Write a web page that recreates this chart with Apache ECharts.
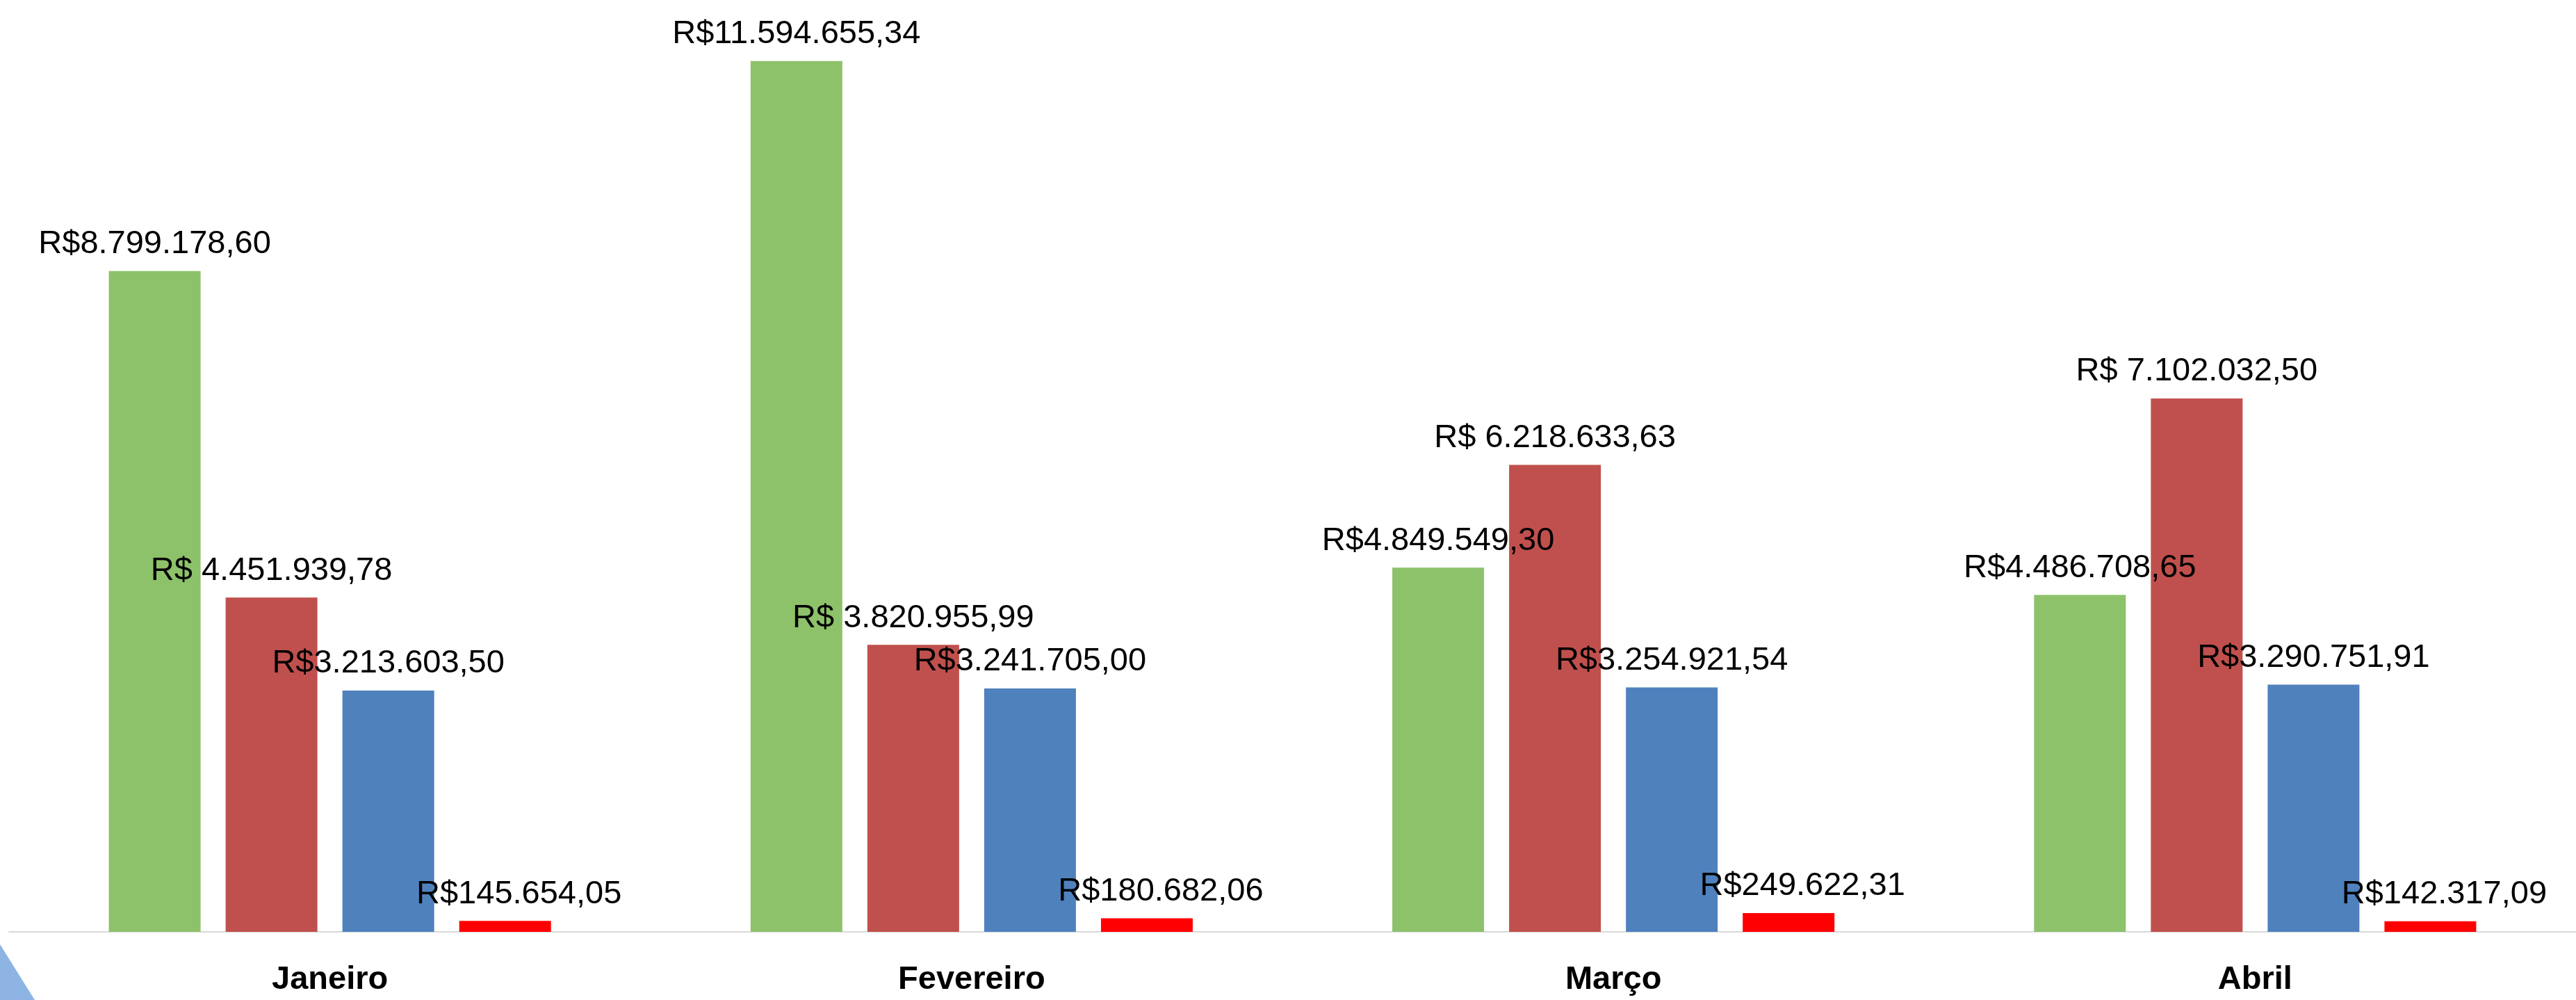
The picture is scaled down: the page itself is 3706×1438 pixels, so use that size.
<!DOCTYPE html>
<html>
<head>
<meta charset="utf-8">
<script src="https://cdn.jsdelivr.net/npm/echarts@6/dist/echarts.min.js"></script>
<style>
html,body{margin:0;padding:0;background:#fff;}
#chart{width:3706px;height:1438px;}
</style>
</head>
<body>
<div id="chart"></div>
<script>
const categories = ['Janeiro', 'Fevereiro', 'Março', 'Abril'];
const seriesGreen = [8799178.60, 11594655.34, 4849549.30, 4486708.65];
const seriesDarkRed = [4451939.78, 3820955.99, 6218633.63, 7102032.50];
const seriesBlue = [3213603.50, 3241705.00, 3254921.54, 3290751.91];
const seriesRed = [145654.05, 180682.06, 249622.31, 142317.09];

function brl(v, space) {
  const parts = v.toFixed(2).split('.');
  const intPart = parts[0].replace(/\B(?=(\d{3})+(?!\d))/g, '.');
  return 'R$' + (space ? ' ' : '') + intPart + ',' + parts[1];
}

const labelFont = {
  fontFamily: '"Liberation Sans", Arial, sans-serif',
  fontSize: 47,
  color: '#000'
};

function mkSeries(name, data, color, space, offsetX) {
  return {
    name: name,
    type: 'bar',
    data: data,
    barWidth: 132,
    barGap: '27.3%',
    itemStyle: { color: color },
    label: Object.assign({
      show: true,
      position: 'top',
      distance: 15,
      offset: [offsetX || 0, 0],
      formatter: p => brl(p.value, space)
    }, labelFont),
    z: 2
  };
}

const chart = echarts.init(document.getElementById('chart'));
chart.setOption({
  animation: false,
  backgroundColor: '#fff',
  grid: { left: 13, width: 3718, top: 44, height: 1296, containLabel: false },
  xAxis: {
    type: 'category',
    data: categories,
    axisLine: { show: true, lineStyle: { color: '#D9D9D9', width: 2 } },
    axisTick: { show: false },
    axisLabel: {
      margin: 46,
      fontFamily: '"Liberation Sans", Arial, sans-serif',
      fontWeight: 'bold',
      fontSize: 47,
      color: '#000'
    }
  },
  yAxis: {
    type: 'value',
    min: 0,
    max: 12000000,
    show: false,
    splitLine: { show: false }
  },
  series: [
    mkSeries('Série 1', seriesGreen, '#8DC26A', false, 0),
    mkSeries('Série 2', seriesDarkRed, '#C0504D', true, 0),
    mkSeries('Série 3', seriesBlue, '#4F81BD', false, 0),
    mkSeries('Série 4', seriesRed, '#FF0000', false, 20)
  ],
  graphic: [{
    type: 'polygon',
    shape: { points: [[0, 1358], [50, 1438], [0, 1438]] },
    style: { fill: '#8DB4E2' },
    z: 10
  }]
});
</script>
</body>
</html>
